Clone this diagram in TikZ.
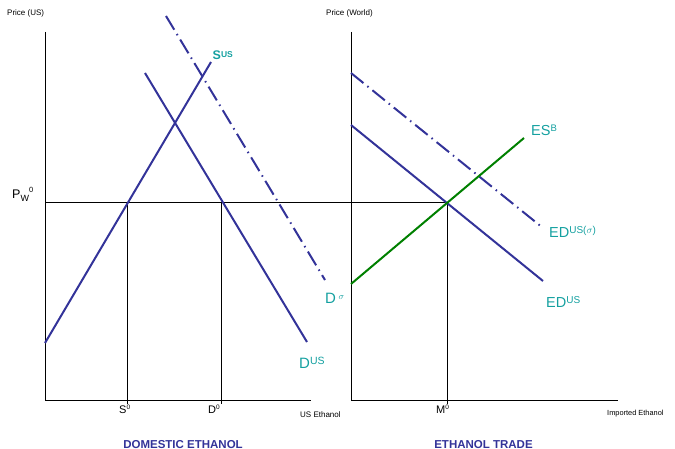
\documentclass[tikz,border=0pt]{standalone}
\usepackage{fontspec}
\setmainfont{Liberation Sans}
\definecolor{navy}{RGB}{51,51,153}
\definecolor{tealtxt}{RGB}{20,160,160}
\definecolor{grn}{RGB}{0,128,0}
\newcommand{\fsz}[1]{\fontsize{#1}{#1}\selectfont}
\newcommand{\sups}[3]{\raisebox{#1}{\fsz{#2}#3}}
\begin{document}
\begin{tikzpicture}[x=1pt,y=-1pt,
  axis/.style={black, line width=0.9pt},
  guide/.style={black, line width=1pt},
  curve/.style={navy, line width=2pt},
  dashcurve/.style={navy, line width=2pt, dash pattern=on 16pt off 5pt on 1.5pt off 5pt},
  supply/.style={grn, line width=2pt},
  tlab/.style={tealtxt, inner sep=0pt, anchor=base west},
  small/.style={inner sep=0pt, anchor=base west, font=\fsz{8}},
  ticklab/.style={inner sep=0pt, anchor=base west, font=\fsz{11}},
  title/.style={navy, inner sep=0pt, anchor=base, font=\bfseries\fsz{11.5}}]
\useasboundingbox (0,0) rectangle (675,449);
% axes
\coordinate (LT) at (45,32); \coordinate (LO) at (45,400); \coordinate (LR) at (311,400);
\coordinate (RT) at (351,32); \coordinate (RO) at (351,400); \coordinate (RR) at (618,400);
\draw[axis] (LT) -- (LO) -- (LR);
\draw[axis] (RT) -- (RO) -- (RR);
% world price line and guides
\coordinate (P0) at (45,203); \coordinate (E) at (447,203);
\coordinate (Sp) at (127,203); \coordinate (Dp) at (221,203);
\coordinate (Sb) at (127,404); \coordinate (Db) at (221,404); \coordinate (Mb) at (447,404);
\draw[guide] (P0) -- (E);
\draw[guide] (Sp) -- (Sb);
\draw[guide] (Dp) -- (Db);
\draw[guide] (E) -- (Mb);
% domestic curves
\coordinate (s1) at (45,343); \coordinate (s2) at (211,62);
\coordinate (d1) at (145,73); \coordinate (d2) at (307,342);
\coordinate (ds1) at (166,16); \coordinate (ds2) at (325,280);
\draw[curve] (s1) -- (s2);
\draw[curve] (d1) -- (d2);
\draw[dashcurve] (ds1) -- (ds2);
% trade curves
\coordinate (e1) at (351,125); \coordinate (e2) at (543,281);
\coordinate (es1) at (351,73); \coordinate (es2) at (543,228);
\coordinate (b1) at (351,284); \coordinate (b2) at (524,138);
\draw[curve] (e1) -- (e2);
\draw[dashcurve] (es1) -- (es2);
\draw[supply] (b1) -- (b2);
% labels
\node[small] (py) at (7,16) {Price (US)};
\node[small] (pw) at (326,16) {Price (World)};
\node[small] (ux) at (300,417) {US Ethanol};
\node[small, font=\fsz{7.4}] (ix) at (607,415) {Imported Ethanol};
\node[inner sep=0pt, anchor=base west] (pwl) at (12,199) {\fsz{12.5}P\raisebox{-2.5pt}{\fsz{9}W}\raisebox{6pt}{\fsz{7.5}0}};
\node[ticklab] (s0) at (119,413.5) {S\raisebox{4pt}{\fsz{6.5}0}};
\node[ticklab] (d0) at (208,413.5) {D\raisebox{4pt}{\fsz{6.5}0}};
\node[ticklab] (m0) at (436,413.5) {M\raisebox{4pt}{\fsz{6.5}0}};
\node[tlab, font=\bfseries] (sus) at (212.5,60) {\fsz{12.5}S\sups{2.5pt}{8.5}{US}};
\node[tlab] (dsig) at (325,304) {\fsz{15}D\,\sups{5pt}{9}{$\sigma$}};
\node[tlab] (dus) at (299,368) {\fsz{15}D\sups{3.5pt}{10.5}{US}};
\node[tlab] (esb) at (531,136) {\fsz{14.5}ES\sups{4pt}{9.5}{B}};
\node[tlab] (edsig) at (549,238) {\fsz{14.5}ED\sups{4pt}{10}{US($\sigma$)}};
\node[tlab] (edus) at (546,307) {\fsz{14.5}ED\sups{4pt}{10}{US}};
\node[title] (t1) at (183,448) {DOMESTIC ETHANOL};
\node[title] (t2) at (483.5,448) {ETHANOL TRADE};
\end{tikzpicture}
\end{document}
